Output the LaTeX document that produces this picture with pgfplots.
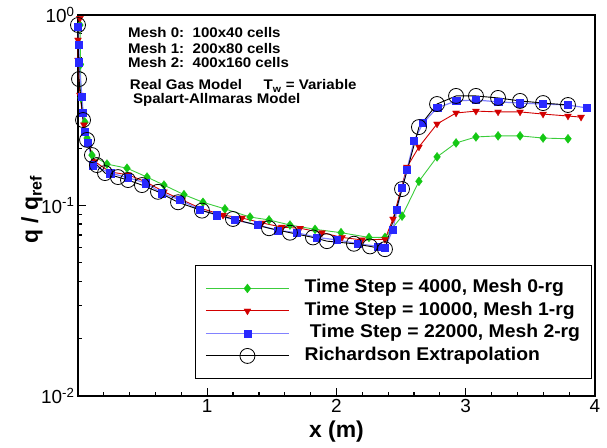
\documentclass[border=0pt]{standalone}
\usepackage{pgfplots}
\pgfplotsset{compat=1.18}
\usepackage{fontspec}
\usepackage{graphicx}
\setmainfont{Liberation Sans}
\definecolor{cgreen}{RGB}{20,200,20}
\definecolor{cgreenl}{RGB}{60,205,60}
\definecolor{cred}{RGB}{210,0,0}
\definecolor{cblue}{RGB}{40,40,255}
\definecolor{cbluel}{RGB}{130,130,255}
\newcommand{\hs}[1]{\scalebox{1.08}[1]{#1}}
\newcommand{\hl}[1]{\scalebox{1.05}[1]{#1}}
\begin{document}
\begin{tikzpicture}
\begin{axis}[
  at={(0,0)}, anchor=south west,
  scale only axis, width=517bp, height=381bp,
  xmin=0, xmax=4, ymin=0.01, ymax=1, ymode=log,
  clip=false,
  axis line style={line width=1.8bp},
  xtick={0,1,2,3,4}, xticklabels={,1,2,3,4},
  minor x tick num=4,
  ytick={0.01,0.1,1},
  yticklabels={10\textsuperscript{-2},10\textsuperscript{-1},10\textsuperscript{0}},
  xtick pos=left, ytick pos=left, tick align=inside,
  major tick length=8bp, minor tick length=4bp,
  every tick/.style={black, line width=1.2bp},
  tick label style={font=\fontsize{19}{22}\selectfont},
  /pgf/number format/assume math mode=true,
  xlabel={x (m)}, ylabel={q\ /\ q\textsubscript{ref}},
  label style={font=\bfseries\fontsize{23}{26}\selectfont},
  xlabel style={at={(axis description cs:0.5,0)}, anchor=center, yshift=-36bp},
  ylabel style={at={(axis description cs:0,0.49)}, anchor=base, yshift=40bp},
  legend cell align=left,
  legend image code/.code={\draw[mark repeat=2,mark phase=2,#1] plot coordinates {(0bp,0bp) (41.5bp,0bp) (83bp,0bp)};},
  legend style={at={(rel axis cs:0.226,0.344)}, anchor=north west, draw=black, line width=1bp,
    font=\bfseries\fontsize{18.5}{21}\selectfont, inner xsep=10bp, inner ysep=13bp, row sep=2.5bp,
    column sep=14bp,
    nodes={inner sep=1bp, text height=13.5bp, text depth=4.5bp}},
]
\addplot[color=cgreenl, line width=0.9bp, mark=diamond*, mark size=4.5bp, mark options={fill=cgreen, draw=cgreen, line width=0.3bp}] coordinates {
(0.015,0.886) (0.02,0.55) (0.023,0.367) (0.054,0.274) (0.07,0.226) (0.108,0.184)
(0.224,0.165) (0.379,0.157) (0.534,0.141) (0.665,0.128) (0.820,0.114) (0.967,0.104)
(1.137,0.096) (1.331,0.087) (1.478,0.084) (1.640,0.079) (1.834,0.075) (2.035,0.072)
(2.251,0.068) (2.375,0.068) (2.507,0.088) (2.638,0.134) (2.778,0.180) (2.925,0.213)
(3.079,0.229) (3.250,0.232) (3.420,0.232) (3.598,0.226) (3.791,0.224)};
\addlegendentry{\hl{Time Step = 4000, Mesh 0-rg}}
\addplot[color=cred, line width=0.9bp, mark=triangle*, mark size=4bp, mark options={rotate=180, fill=cred, draw=cred, line width=0.3bp}] coordinates {
(0.015,0.96) (0.0,0.74) (0.0,0.58) (0.015,0.38) (0.046,0.265) (0.077,0.215) (0.13,0.17)
(0.248,0.150) (0.387,0.145) (0.526,0.133) (0.665,0.118) (0.805,0.107) (0.944,0.097)
(1.122,0.089) (1.269,0.086) (1.424,0.081) (1.578,0.077) (1.718,0.076) (1.888,0.072)
(2.043,0.068) (2.197,0.066) (2.375,0.0665) (2.437,0.085) (2.545,0.159) (2.638,0.203)
(2.778,0.268) (2.925,0.306) (3.079,0.313) (3.250,0.310) (3.420,0.310) (3.598,0.302)
(3.791,0.295) (3.892,0.291)};
\addlegendentry{\hl{Time Step = 10000, Mesh 1-rg}}
\addplot[color=cbluel, line width=1.2bp, mark=square*, mark size=3.6bp, mark options={fill=cblue, draw=cblue, line width=0.3bp}] coordinates {
(0.0,0.865) (0.008,0.696) (0.008,0.566) (0.031,0.371) (0.039,0.306) (0.054,0.243)
(0.077,0.213) (0.116,0.163) (0.248,0.148) (0.387,0.140) (0.526,0.131) (0.650,0.116)
(0.789,0.107) (0.944,0.095) (1.075,0.089) (1.215,0.084) (1.393,0.079) (1.547,0.074)
(1.694,0.072) (1.849,0.068) (2.004,0.066) (2.166,0.063) (2.321,0.061) (2.375,0.060)
(2.437,0.075) (2.468,0.095) (2.507,0.124) (2.545,0.154) (2.600,0.218) (2.669,0.271)
(2.778,0.325) (2.925,0.354) (3.079,0.358) (3.250,0.350) (3.420,0.345) (3.598,0.341)
(3.791,0.337) (3.938,0.325)};
\addlegendentry{\hl{\ Time Step = 22000, Mesh 2-rg}}
\addplot[color=black, line width=0.9bp, mark=o, mark size=7.5bp, mark options={line width=0.8bp}] coordinates {
(0.0,0.886) (0.008,0.461) (0.039,0.281) (0.070,0.221) (0.108,0.184) (0.147,0.163)
(0.209,0.148) (0.309,0.141) (0.387,0.136) (0.495,0.128) (0.619,0.118) (0.774,0.104)
(0.959,0.094) (1.199,0.085) (1.478,0.076) (1.640,0.072) (1.818,0.068) (1.926,0.065)
(2.135,0.063) (2.259,0.061) (2.375,0.059) (2.507,0.122) (2.638,0.258) (2.778,0.341)
(2.925,0.376) (3.079,0.376) (3.250,0.367) (3.420,0.354) (3.598,0.345) (3.791,0.337)};
\addlegendentry{\hl{Richardson Extrapolation}}
\begin{scope}[every node/.style={anchor=west, inner sep=0pt, font=\bfseries\fontsize{14}{16}\selectfont}]
\node at (rel axis cs:0.0967,0.953) {\hs{Mesh 0:\ \ 100x40 cells}};
\node at (rel axis cs:0.0967,0.913) {\hs{Mesh 1:\ \ 200x80 cells}};
\node at (rel axis cs:0.0967,0.874) {\hs{Mesh 2:\ \ 400x160 cells}};
\node at (rel axis cs:0.100,0.814) {\hs{Real Gas Model\hspace{20bp}T\textsubscript{w} = Variable}};
\node at (rel axis cs:0.106,0.777) {\hs{Spalart-Allmaras Model}};
\end{scope}
\end{axis}
\pgfresetboundingbox
\useasboundingbox (-78bp,-52bp) rectangle (529bp,396bp);
\end{tikzpicture}
\end{document}
